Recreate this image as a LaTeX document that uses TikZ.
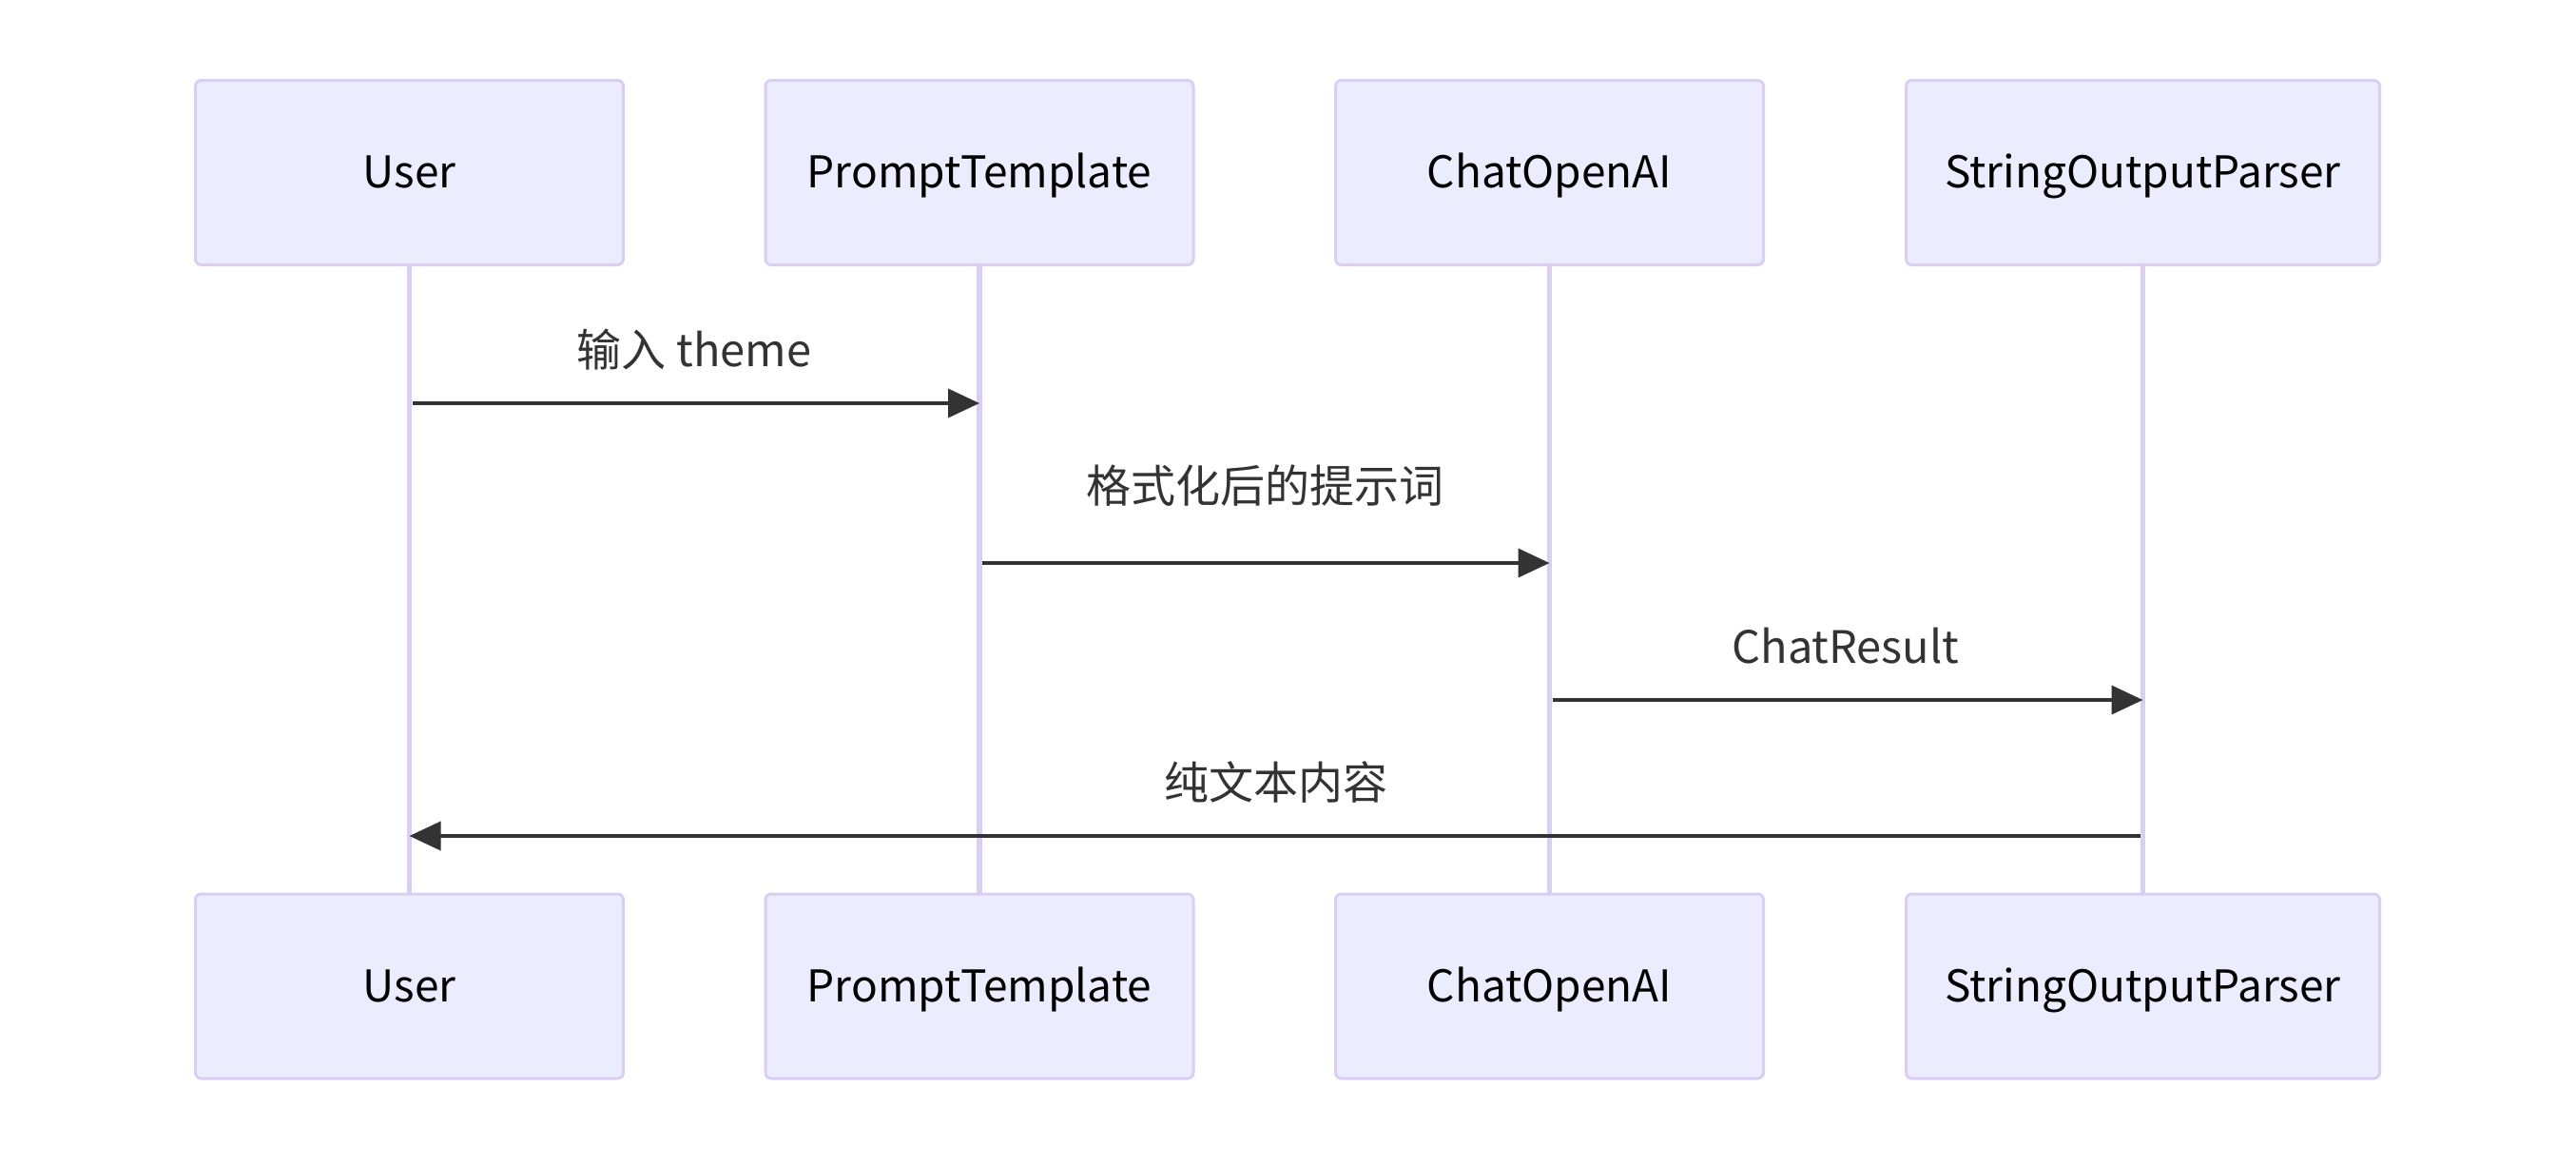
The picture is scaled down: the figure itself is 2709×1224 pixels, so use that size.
\documentclass[tikz,border=0pt]{standalone}
\usepackage{fontspec}
\setmainfont{Noto Sans CJK SC}
\usetikzlibrary{arrows.meta}
\definecolor{actfill}{HTML}{ECECFF}
\definecolor{actline}{HTML}{DACEF3}
\definecolor{msgcol}{HTML}{333333}
\begin{document}
\begin{tikzpicture}[x=1pt,y=-1pt,
  actor/.style={draw=actline, line width=3pt, fill=actfill, rounded corners=6pt,
    minimum width=450pt, minimum height=194pt, inner sep=0pt,
    text height=32pt, text depth=0pt,
    font=\fontsize{46}{55}\selectfont, text=black},
  life/.style={draw=actline, line width=5.5pt},
  msg/.style={draw=msgcol, line width=3.8pt, -{Triangle[length=33pt,width=30pt]}},
  lbl/.style={text=msgcol, font=\fontsize{47}{56}\selectfont, inner sep=0pt, anchor=base}]
\useasboundingbox (0,0) rectangle (2709,1224);
\fill[white] (0,0) rectangle (2709,1224);
% actors
\node[actor] (u1) at (430.5,181.5) {User};
\node[actor] (p1) at (1030,181.5) {PromptTemplate};
\node[actor] (c1) at (1629.5,181.5) {ChatOpenAI};
\node[actor, minimum width=498pt] (s1) at (2253.5,181.5) {StringOutputParser};
\node[actor] (u2) at (430.5,1037) {User};
\node[actor] (p2) at (1030,1037) {PromptTemplate};
\node[actor] (c2) at (1629.5,1037) {ChatOpenAI};
\node[actor, minimum width=498pt] (s2) at (2253.5,1037) {StringOutputParser};
% lifelines
\draw[life] (u1.south) -- (u2.north);
\draw[life] (p1.south) -- (p2.north);
\draw[life] (c1.south) -- (c2.north);
\draw[life] (s1.south) -- (s2.north);
% message rows
\coordinate (r1) at (0,424);
\coordinate (r2) at (0,592);
\coordinate (r3) at (0,736);
\coordinate (r4) at (0,879);
\coordinate (m1a) at ([xshift=3pt]u1.south |- r1);
\coordinate (m1b) at (p1.south |- r1);
\coordinate (m2a) at ([xshift=3pt]p1.south |- r2);
\coordinate (m2b) at (c1.south |- r2);
\coordinate (m3a) at ([xshift=3pt]c1.south |- r3);
\coordinate (m3b) at (s1.south |- r3);
\coordinate (m4a) at ([xshift=-3pt]s1.south |- r4);
\coordinate (m4b) at (u1.south |- r4);
\draw[msg] (m1a) -- (m1b);
\draw[msg] (m2a) -- (m2b);
\draw[msg] (m3a) -- (m3b);
\draw[msg] (m4a) -- (m4b);
% labels
\node[lbl] (l1) at (730,385) {输入 theme};
\node[lbl] (l2) at (1330,528) {格式化后的提示词};
\node[lbl] (l3) at (1941,697) {ChatResult};
\node[lbl] (l4) at (1342,840) {纯文本内容};
\end{tikzpicture}
\end{document}
